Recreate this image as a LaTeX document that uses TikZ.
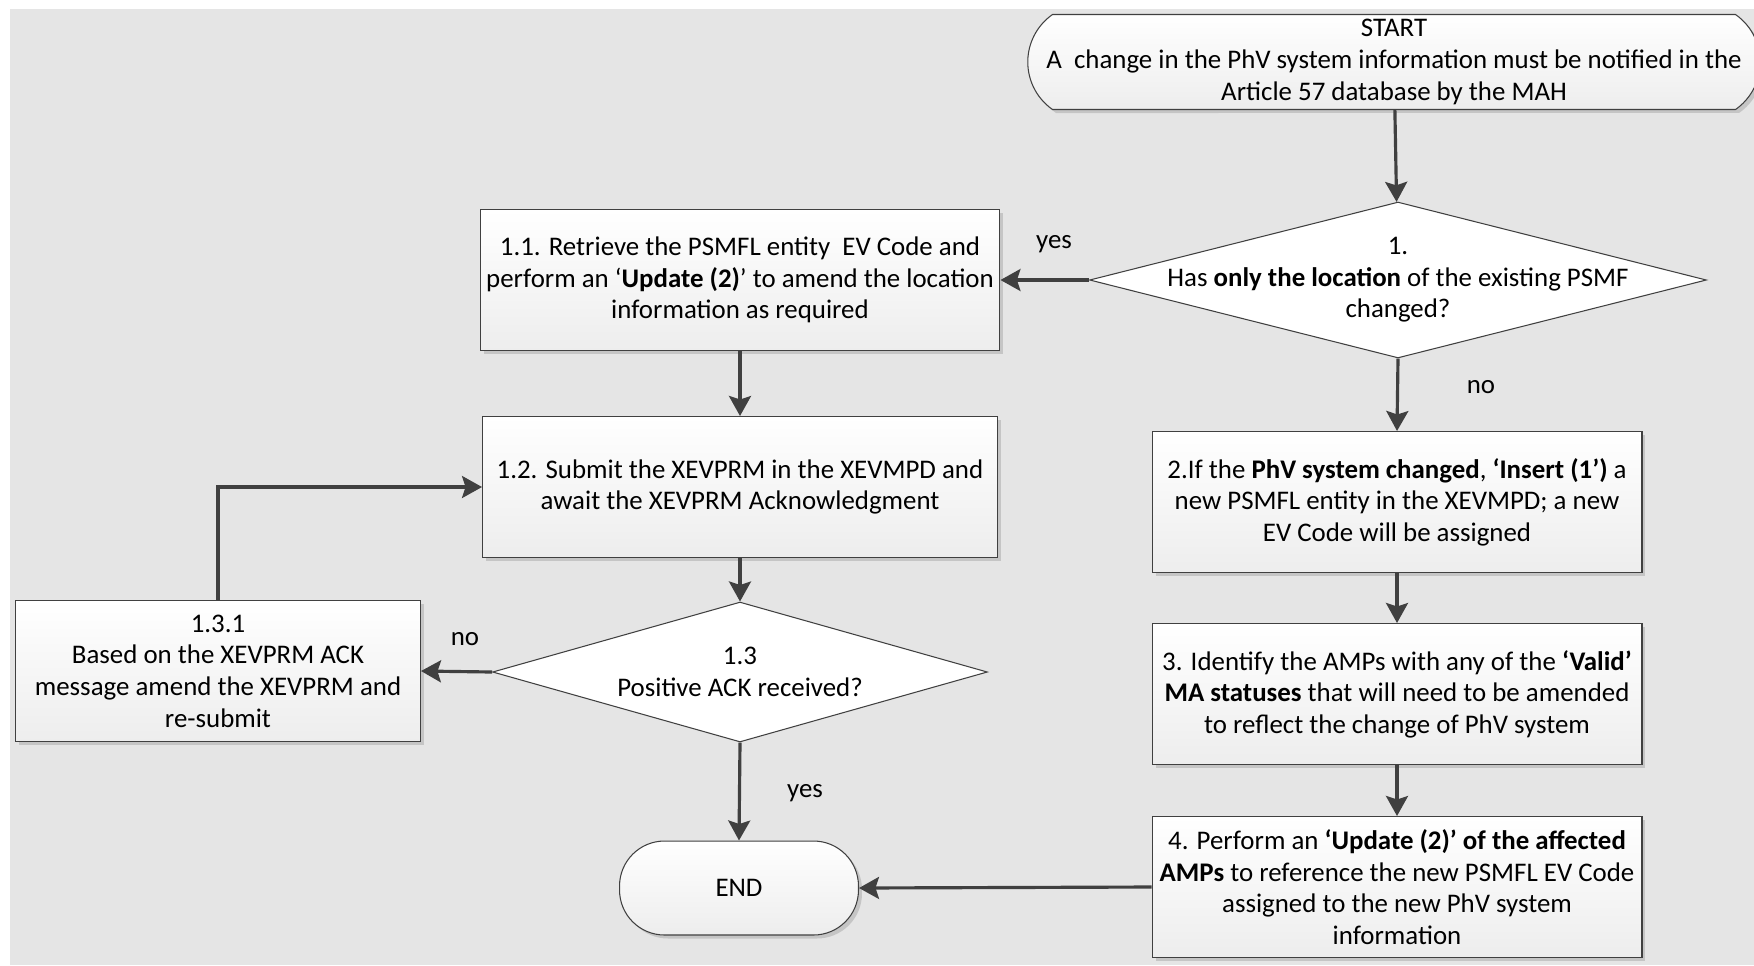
\documentclass[tikz,border=0pt]{standalone}
\usepackage{fontspec}
\setmainfont{Carlito}
\usetikzlibrary{shapes,arrows.meta,shapes.misc,shapes.geometric,shadows}

\begin{document}
\begin{tikzpicture}[x=0.02cm,y=-0.02cm,
		font=\fontsize{15.3}{18}\selectfont,
		shade/.style={draw=black!75,line width=0.6pt,top color=white,bottom color=black!7,
			drop shadow={shadow xshift=0.07cm,shadow yshift=-0.07cm,opacity=0.25,fill=black!60}},
		box/.style={shade,rectangle,align=center,inner sep=0pt,minimum height=2.82cm},
		term/.style={shade,rounded rectangle,align=center,inner sep=0pt},
		decision/.style={draw=black!75,line width=0.6pt,fill=white,diamond,inner sep=0pt},
		flow/.style={draw=black!75,line width=1.8pt,-{Stealth[length=4mm,width=4.4mm,inset=0.7mm]}}]
		\useasboundingbox (0,0) rectangle (1754,965);
		\fill[black!10] (10,9) rectangle (1754,965);
		% right column
		\node[term,rounded rectangle arc length=110,minimum width=14.32cm,minimum height=1.9cm] (start) at (1394,62)
			{START\\A\ \ change in the PhV system information must be notified in the\\Article 57 database by the MAH};
		\node[decision,minimum width=12.34cm,minimum height=3.12cm,
			label={[align=center]center:{1.\\Has \textbf{only the location} of the existing PSMF\\changed?}}] (d1) at (1398,280) {};
		\node[box,minimum width=9.8cm] (b2) at (1397,502)
			{2.If the \textbf{PhV system changed}, \textbf{‘Insert (1’)} a\\new PSMFL entity in the XEVMPD; a new\\EV Code will be assigned};
		\node[box,minimum width=9.8cm] (b3) at (1397,694)
			{3. Identify the AMPs with any of the \textbf{‘Valid’}\\\textbf{MA statuses} that will need to be amended\\to reflect the change of PhV system};
		\node[box,minimum width=9.8cm] (b4) at (1397,887)
			{4. Perform an \textbf{‘Update (2)’ of the affected}\\\textbf{AMPs} to reference the new PSMFL EV Code\\assigned to the new PhV system\\information};
		% left column
		\node[box,minimum width=10.4cm] (b11) at (740,280)
			{1.1. Retrieve the PSMFL entity\ \ EV Code and\\perform an ‘\textbf{Update (2)}’ to amend the location\\information as required};
		\node[box,minimum width=10.3cm] (b12) at (740,487)
			{1.2. Submit the XEVPRM in the XEVMPD and\\await the XEVPRM Acknowledgment};
		\node[decision,minimum width=9.9cm,minimum height=2.8cm,
			label={[align=center]center:{1.3\\Positive ACK received?}}] (d13) at (740,672) {};
		\node[box,minimum width=8.1cm] (b131) at (218,671)
			{1.3.1\\Based on the XEVPRM ACK\\message amend the XEVPRM and\\re-submit};
		\node[shade,rectangle,rounded corners=0.9cm,minimum width=4.78cm,minimum height=1.88cm] (end) at (739,888) {END};
		% labels
		\node (yes1) at (1054,244) {yes};
		\node (no1) at (1481,387) {no};
		\node (no2) at (465,639) {no};
		\node (yes2) at (805,793) {yes};
		% collegamenti
		\draw[flow] (start) -- (d1);
		\draw[flow] (d1.west) -- (b11.east);
		\draw[flow] (d1.south) -- (b2.north);
		\draw[flow] (b2) -- (b3);
		\draw[flow] (b3) -- (b4);
		\draw[flow] (b4.west) -- (end.east);
		\draw[flow] (b11) -- (b12);
		\draw[flow] (b12.south) -- (d13.north);
		\draw[flow] (d13.west) -- (b131.east);
		\draw[flow] (d13.south) -- (end.north);
		\draw[flow] (b131.north) |- (b12.west);
	\end{tikzpicture}
\end{document}
